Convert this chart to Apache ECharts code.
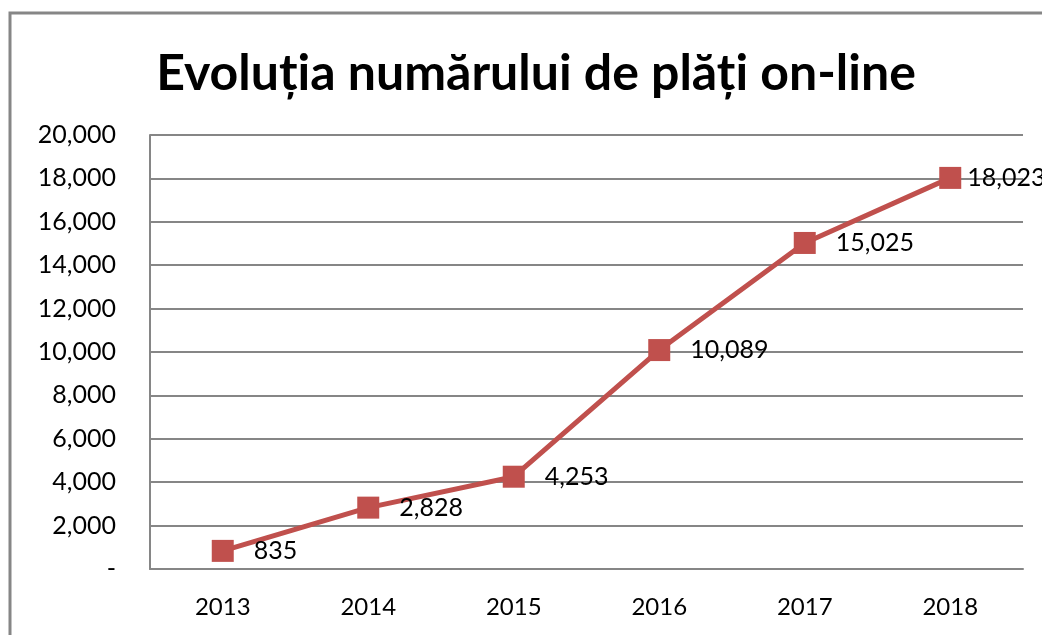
<!DOCTYPE html>
<html>
<head>
<meta charset="utf-8">
<script src="https://cdn.jsdelivr.net/npm/echarts@6/dist/echarts.min.js"></script>
<style>
  html, body { margin: 0; padding: 0; background: #fff; }
  #main { width: 1042px; height: 635px; }
</style>
</head>
<body>
<div id="main"></div>
<script>
var years = ['2013', '2014', '2015', '2016', '2017', '2018'];
var payments = [835, 2828, 4253, 10089, 15025, 18023];
var yMin = 0, yMax = 20000, yStep = 2000;

function fmt(v) {
  if (v === 0) return '-';
  return v.toLocaleString('en-US');
}

var chart = echarts.init(document.getElementById('main'));

var option = {
  backgroundColor: '#fff',
  animation: false,
  title: {
    text: 'Evoluția numărului de plăți on-line',
    left: 531,
    textAlign: 'center',
    top: 44,
    textStyle: {
      fontFamily: 'Lato',
      fontWeight: 'bold',
      fontSize: 50,
      color: '#000'
    }
  },
  graphic: [{
    type: 'rect',
    shape: { x: 10, y: 13, width: 1100, height: 700 },
    style: { fill: null, stroke: '#868686', lineWidth: 3 },
    silent: true
  }],
  grid: {
    left: 150,
    right: 19,
    top: 135,
    bottom: 66
  },
  xAxis: {
    type: 'category',
    data: years,
    boundaryGap: true,
    axisLine: { show: true, lineStyle: { color: '#868686', width: 2 } },
    axisTick: { show: false },
    axisLabel: {
      margin: 26,
      fontFamily: 'Lato',
      fontSize: 24,
      color: '#000'
    }
  },
  yAxis: {
    type: 'value',
    min: yMin,
    max: yMax,
    interval: yStep,
    axisLine: { show: true, lineStyle: { color: '#868686', width: 2 } },
    axisTick: { show: false },
    splitLine: { show: true, lineStyle: { color: '#868686', width: 2 } },
    axisLabel: {
      margin: 34,
      fontFamily: 'Lato',
      fontSize: 25,
      color: '#000',
      formatter: fmt
    }
  },
  series: [{
    name: 'Plăți on-line',
    type: 'line',
    data: payments,
    symbol: 'rect',
    symbolSize: 22,
    lineStyle: { color: '#c0504d', width: 5 },
    itemStyle: { color: '#c0504d' },
    label: {
      show: true,
      position: 'right',
      distance: 20,
      offset: [0, 2],
      fontFamily: 'Lato',
      fontSize: 25,
      color: '#000',
      formatter: function (p) { return fmt(p.value); }
    },
    // last label sits closer to its marker, like in the original
    labelLayout: function (p) {
      if (p.dataIndex === payments.length - 1) {
        return { dx: -14 };
      }
      return {};
    }
  }]
};

chart.setOption(option);
</script>
</body>
</html>
